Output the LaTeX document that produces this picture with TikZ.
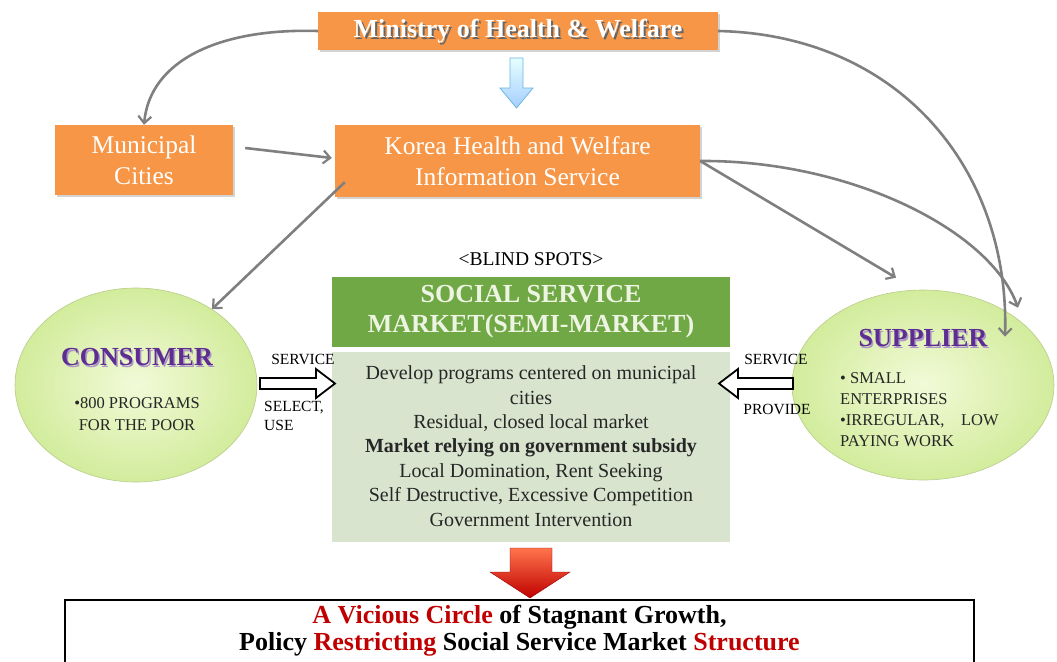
\documentclass[tikz,border=0pt]{standalone}
\usepackage{fontspec}
\setmainfont{Liberation Serif}
\usetikzlibrary{arrows.meta,shapes.geometric,shadows,calc}
\definecolor{orng}{HTML}{F79646}
\definecolor{conn}{HTML}{7F7F7F}
\definecolor{hdrgreen}{HTML}{70A846}
\definecolor{hdrtext}{HTML}{EEF4E2}
\definecolor{boxgreen}{HTML}{D8E4CE}
\definecolor{ellin}{HTML}{F2FAD8}
\definecolor{ellout}{HTML}{D2EC9C}
\definecolor{ellborder}{HTML}{B9CC8C}
\definecolor{purp}{HTML}{5E2D91}
\definecolor{darkred}{HTML}{C00000}
\definecolor{blueline}{HTML}{6BB6DE}
\tikzset{
  orangebox/.style={rectangle, fill=orng, inner sep=0pt, text=white, align=center,
     drop shadow={opacity=0.35, shadow xshift=2pt, shadow yshift=-2pt}},
  connector/.style={draw=conn, line width=2.6pt, -{Straight Barb[length=7pt,width=13pt,line width=2.2pt]}},
  bubble/.style={ellipse, draw=ellborder, line width=0.6pt, inner color=ellin, outer color=ellout},
  blockarrow/.style={draw=black, line width=1.8pt, fill=white, line join=miter},
  smalllabel/.style={font=\fontsize{15.5}{19}\selectfont, inner sep=0pt},
  bodytext/.style={font=\fontsize{16.5}{21.5}\selectfont, inner sep=0pt, text=black!85}
}
\begin{document}
\begin{tikzpicture}[x=1pt,y=-1pt]
\useasboundingbox (0,0) rectangle (1057,661);

% orange boxes
\node[orangebox, minimum width=400pt, minimum height=38pt] (min) at (518,31) {};
\node[text=black!60, font=\fontsize{26}{28}\bfseries, inner sep=0pt] (minsh) at (520,33) {Ministry of Health \& Welfare};
\node[text=white, font=\fontsize{26}{28}\bfseries, inner sep=0pt] (mintxt) at (518,31.5) {Ministry of Health \& Welfare};

\node[orangebox, minimum width=178pt, minimum height=70pt, font=\fontsize{25.5}{31}\selectfont] (mun) at (144,160) {Municipal\\Cities};
\node[orangebox, minimum width=365pt, minimum height=72pt, font=\fontsize{25.5}{31}\selectfont] (kor) at (517.5,161) {Korea Health and Welfare\\Information Service};

% blue arrow
\shade[top color=cyan!10, bottom color=cyan!45!blue!35, draw=blueline, line width=0.8pt]
  (510,58) -- (523,58) -- (523,88) -- (533,88) -- (516.5,108) -- (500,88) -- (510,88) -- cycle;

% blind spots
\node[font=\fontsize{19.5}{22}\selectfont, inner sep=0pt] (blind) at (531,259) {<BLIND SPOTS>};

% market boxes
\node[rectangle, fill=hdrgreen, minimum width=398pt, minimum height=70pt, inner sep=0pt,
      text=hdrtext, align=center, font=\fontsize{26}{30}\bfseries] (hdr) at (531,312)
      {SOCIAL SERVICE\\MARKET(SEMI-MARKET)};
\node[rectangle, fill=boxgreen, minimum width=398pt, minimum height=190pt, inner sep=0pt] (mkt) at (531,447) {};
\node[align=center, inner sep=0pt, text=black!85, font=\fontsize{20}{24.4}\selectfont] (mkttxt) at (531,446)
 {Develop programs centered on municipal\\ cities\\ Residual, closed local market\\
  \textbf{Market relying on government subsidy}\\ Local Domination, Rent Seeking\\
  Self Destructive, Excessive Competition\\ Government Intervention};

% ellipses
\node[bubble, minimum width=242pt, minimum height=194pt] (cons) at (136,385) {};
\node[text=purp!50, font=\fontsize{26}{28}\bfseries, inner sep=0pt] (conssh) at (138.5,359) {CONSUMER};
\node[text=purp, font=\fontsize{26}{28}\bfseries, inner sep=0pt] (constxt) at (137,357) {CONSUMER};
\node[bodytext, align=center] (consbody) at (137,414) {•800 PROGRAMS\\FOR THE POOR};

\node[bubble, minimum width=262pt, minimum height=190pt] (sup) at (923,385) {};
\node[text=purp!50, font=\fontsize{26}{28}\bfseries, inner sep=0pt] (supsh) at (924.5,340) {SUPPLIER};
\node[text=purp, font=\fontsize{26}{28}\bfseries, inner sep=0pt] (suptxt) at (923,338) {SUPPLIER};
\node[bodytext, align=left, anchor=north west, font=\fontsize{16.5}{21}\selectfont] (supbody) at (840,372)
 {• SMALL\\ENTERPRISES\\•IRREGULAR,\ \ \ \ LOW\\PAYING WORK};

% hollow block arrows
\draw[blockarrow] (260,378) -- (316,378) -- (316,369) -- (335,383.5) -- (316,398) -- (316,389) -- (260,389) -- cycle;
\draw[blockarrow] (793,378) -- (738,378) -- (738,369) -- (719,383.5) -- (738,398) -- (738,389) -- (793,389) -- cycle;

\node[smalllabel] (lserv) at (303,359) {SERVICE};
\node[smalllabel, align=left, anchor=north west] (lsel) at (264,401) {SELECT,\\USE};
\node[smalllabel] (rserv) at (776,359) {SERVICE};
\node[smalllabel] (rprov) at (777,409) {PROVIDE};

% red arrow
\shade[top color=red!55!orange!70, bottom color=red!75!black, draw=red!60!black, line width=0.4pt]
  (510,548) -- (552,548) -- (552,572) -- (570,572) -- (530,598) -- (490,572) -- (510,572) -- cycle;

% bottom box
\node[draw=black, line width=2.6pt, minimum width=909pt, minimum height=70pt, inner sep=0pt] (res) at (519.5,635) {};
\node[align=center, inner sep=0pt, font=\fontsize{26}{27}\bfseries] (restxt) at (519.5,631)
 {\textcolor{darkred}{A Vicious Circle} of Stagnant Growth,\\
  Policy \textcolor{darkred}{Restricting} Social Service Market \textcolor{darkred}{Structure}};

% connectors
\draw[connector] (min.west) .. controls (220,28) and (150,60) .. (mun.north);
\draw[connector] ($(mun.east)+(12,-12)$) -- ($(kor.west)+(-3,-3)$);
\draw[connector] ($(kor.south west)+(10,-15)$) -- (cons.45);
\draw[connector] (kor.east) -- ($(sup.north)+(-27,-12)$);
\draw[connector] (kor.east) .. controls (850,160) and (990,230) .. ($(sup.north)+(95,18)$);
\draw[connector] (min.east) .. controls (900,35) and (1010,170) .. ($(sup.north)+(82,47)$);
\end{tikzpicture}
\end{document}
